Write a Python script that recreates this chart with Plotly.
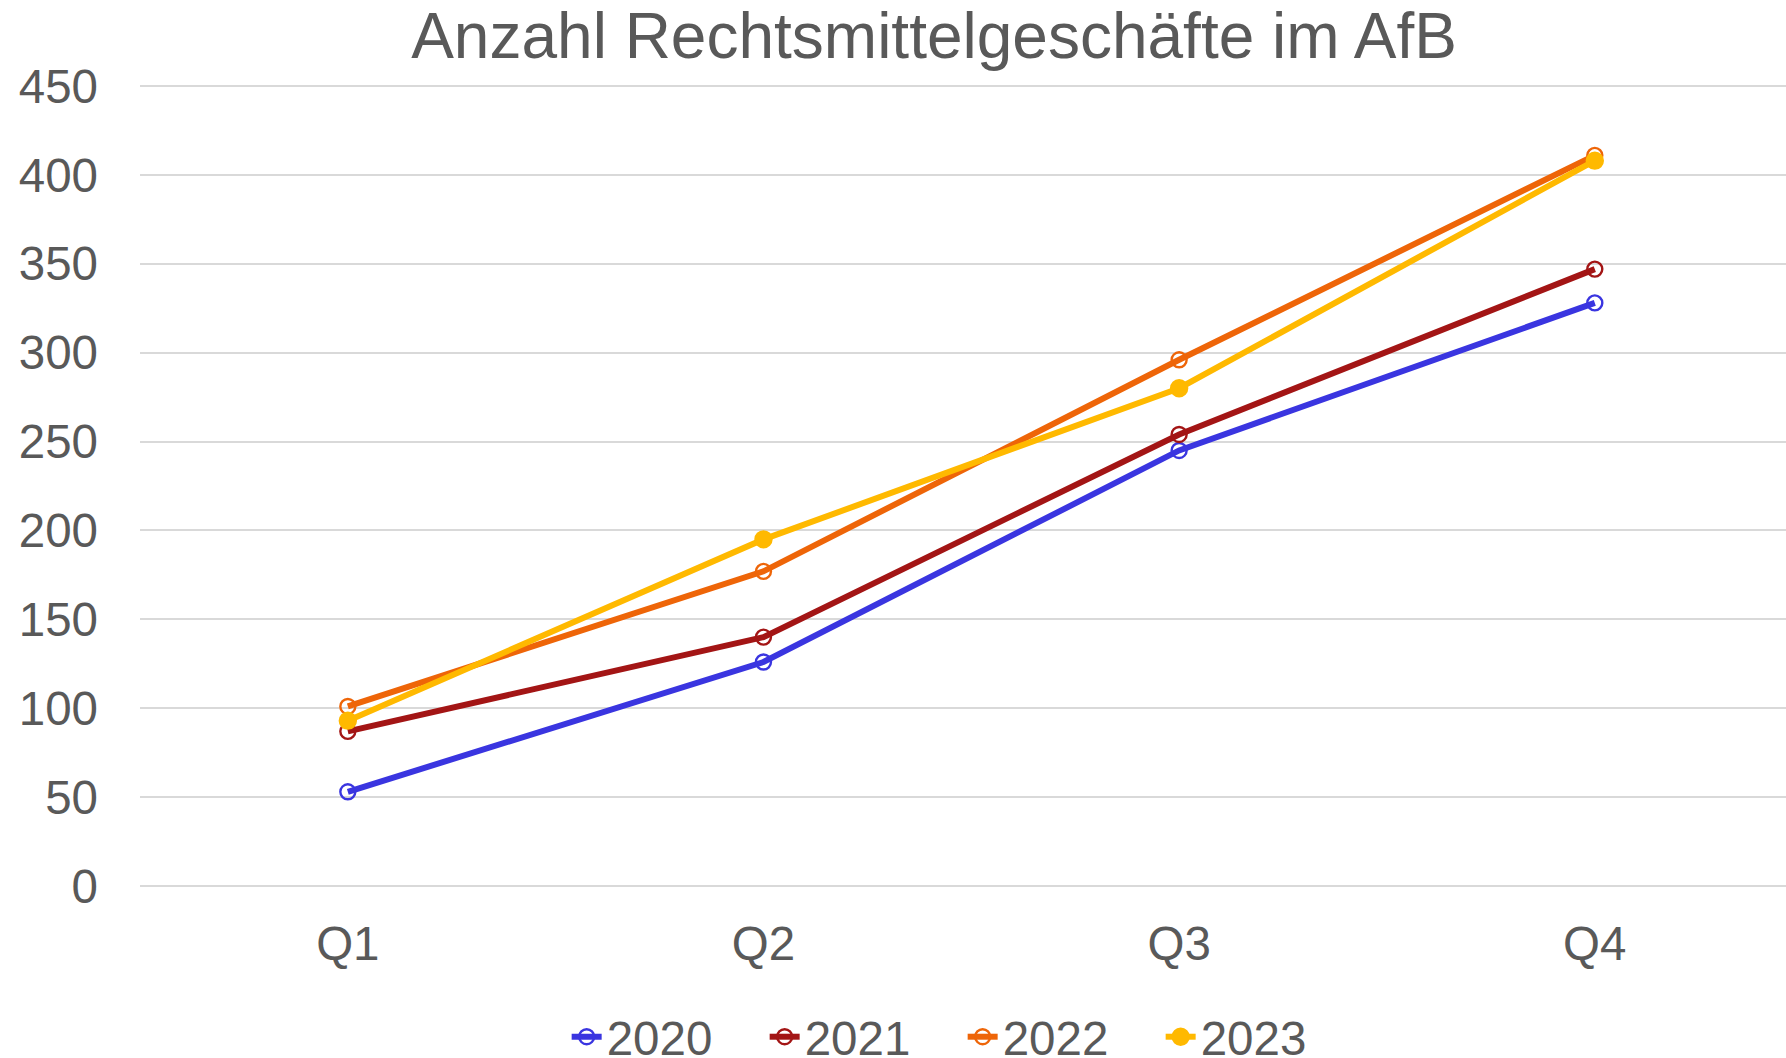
import plotly.graph_objects as go

quarters = ["Q1", "Q2", "Q3", "Q4"]
years = ["2020", "2021", "2022", "2023"]
v2020 = [53, 126, 245, 328]
v2021 = [87, 140, 254, 347]
v2022 = [101, 177, 296, 411]
v2023 = [93, 195, 280, 408]
y_ticks = [0, 50, 100, 150, 200, 250, 300, 350, 400, 450]

series = [v2020, v2021, v2022, v2023]
colors = ["#3A35E0", "#A31515", "#EE6508", "#FFB900"]
filled = [False, False, False, True]

FONT = "Liberation Sans, Arial, sans-serif"
GREY = "#595959"

fig = go.Figure()
for name, vals, col, fill in zip(years, series, colors, filled):
    fig.add_trace(go.Scatter(
        x=quarters, y=vals, name=name, mode="lines+markers",
        line=dict(color=col, width=6),
        marker=dict(
            symbol="circle" if fill else "circle-open",
            size=16 if fill else 15,
            color=col,
            line=dict(color=col, width=2.4),
        ),
    ))

fig.update_layout(
    width=1786, height=1058,
    paper_bgcolor="white", plot_bgcolor="white",
    margin=dict(l=140, r=0, t=82, b=168),
    font=dict(family=FONT, color=GREY, size=47),
    title=dict(text="Anzahl Rechtsmittelgeschäfte im AfB", x=0.523, xref="container",
               xanchor="center", y=0.966, yref="container", yanchor="middle",
               font=dict(size=64, color=GREY, family=FONT)),
    showlegend=True,
    legend=dict(orientation="h", x=0.539, xref="container", xanchor="center",
                y=0.02, yref="container", yanchor="middle",
                font=dict(size=47.5, color=GREY, family=FONT), itemwidth=30,
                entrywidth=153, tracegroupgap=0),
    xaxis=dict(type="category", range=[-0.5, 3.46], showgrid=False, zeroline=False,
               showline=False, ticks="", ticklabelstandoff=21, automargin=False,
               tickfont=dict(size=47.5, color=GREY, family=FONT)),
    yaxis=dict(range=[-2.25, 452.25], tickvals=y_ticks, showgrid=True, gridcolor="#D9D9D9",
               gridwidth=2, zeroline=False, showline=False, ticks="", automargin=False,
               ticklabelstandoff=41, tickfont=dict(size=47.5, color=GREY, family=FONT)),
)

fig.write_html("out.html", config={"displayModeBar": False},
               post_script="document.body.style.margin='0';")
